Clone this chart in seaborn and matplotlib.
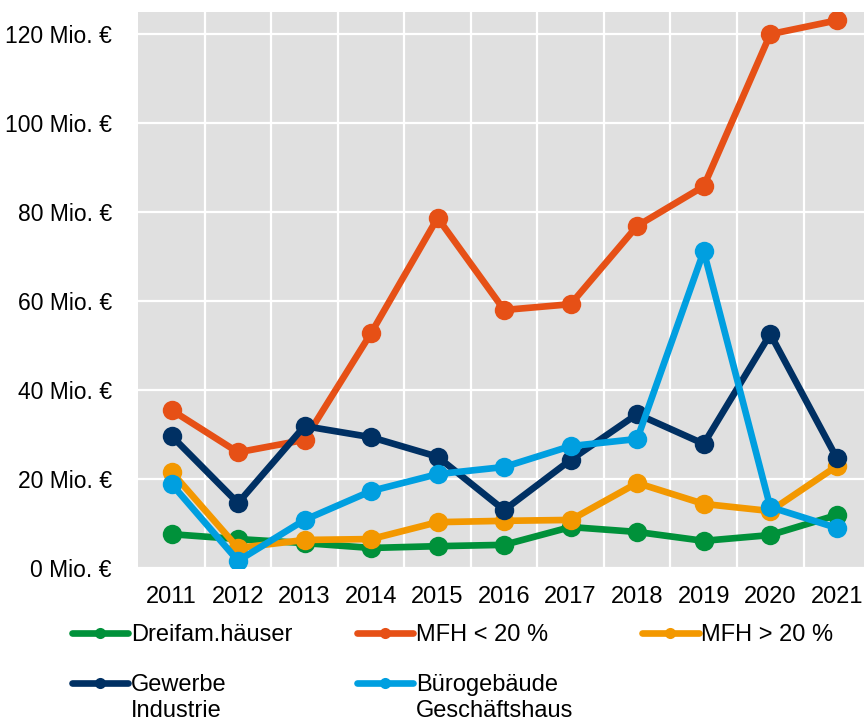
import matplotlib
matplotlib.use("Agg")
import matplotlib.pyplot as plt
from matplotlib.lines import Line2D
import pandas as pd
import seaborn as sns

years = ["2011", "2012", "2013", "2014", "2015", "2016", "2017", "2018", "2019", "2020", "2021"]

dreifam = [7.6, 6.5, 5.6, 4.5, 4.9, 5.2, 9.2, 8.1, 6.1, 7.4, 11.9]
mfh_lt20 = [35.5, 26.0, 28.8, 52.8, 78.7, 58.0, 59.3, 76.9, 85.8, 120.0, 123.1]
mfh_gt20 = [21.6, 4.5, 6.3, 6.5, 10.3, 10.6, 10.8, 19.1, 14.4, 12.8, 22.9]
gewerbe = [29.7, 14.6, 31.9, 29.4, 25.0, 13.0, 24.3, 34.6, 27.9, 52.6, 24.7]
buero = [18.9, 1.6, 10.8, 17.3, 21.1, 22.7, 27.4, 29.0, 71.2, 13.7, 9.0]

series_names = ["Dreifam.häuser", "MFH < 20 %", "MFH > 20 %", "Gewerbe\nIndustrie", "Bürogebäude\nGeschäftshaus"]
series_values = [dreifam, mfh_lt20, mfh_gt20, gewerbe, buero]
colors = ["#00913A", "#E65016", "#F39800", "#003063", "#009FE0"]

sns.set_theme(style="darkgrid")
plt.rcParams["font.family"] = ["Liberation Sans", "DejaVu Sans"]
plt.rcParams["text.color"] = "black"

fig = plt.figure(figsize=(8.64, 7.24), dpi=100)
ax = fig.add_axes([0.16, 0.2155, 0.847, 0.768])
ax.set_facecolor("#E0E0E0")

for name, vals, col in zip(series_names, series_values, colors):
    df = pd.DataFrame({"year": range(len(years)), "value": vals})
    sns.lineplot(data=df, x="year", y="value", ax=ax, color=col, linewidth=4.8,
                 marker="o", markersize=14, markeredgewidth=0, label=name, legend=False)

ax.set_xlim(-0.5, len(years) - 0.5)
ax.set_ylim(0, 125)
ax.set_xticks(range(len(years)))
ax.set_xticklabels(years)
ax.set_xticks([i + 0.5 for i in range(len(years) - 1)], minor=True)
ax.set_yticks(range(0, 121, 20))
ax.set_yticklabels([f"{v} Mio. €" for v in range(0, 121, 20)])
ax.grid(False)
ax.grid(True, axis="y", which="major", color="white", linewidth=1.6)
ax.grid(True, axis="x", which="minor", color="white", linewidth=1.6)
ax.tick_params(axis="both", which="both", length=0, colors="black")
ax.tick_params(axis="x", pad=13, labelsize=17)
ax.tick_params(axis="y", pad=19, labelsize=16.5)
ax.set_xlabel("")
ax.set_ylabel("")
for s in ax.spines.values():
    s.set_visible(False)

# legend: one entry each, handle aligned with the first text line
positions = [(0.083, 0.123), (0.413, 0.123), (0.743, 0.123), (0.083, 0.054), (0.413, 0.054)]
legends = []
for name, col, pos in zip(series_names, colors, positions):
    first, _, second = name.partition("\n")
    h = Line2D([], [], color=col, linewidth=4.8, marker="o", markersize=8, markeredgewidth=0)
    leg = fig.legend([h], [first], loc="center left", bbox_to_anchor=pos, frameon=False,
                     fontsize=17, handlelength=2.4, handletextpad=0.1, borderpad=0,
                     borderaxespad=0)
    legends.append((leg, second))

fig.canvas.draw()
for leg, second in legends:
    if second:
        bb = leg.get_texts()[0].get_window_extent()
        x0, y0 = fig.transFigure.inverted().transform((bb.x0, bb.y0))
        fig.text(x0, y0 - 0.006, second, fontsize=17, va="top", ha="left")

fig.savefig("out.png", dpi=100)
